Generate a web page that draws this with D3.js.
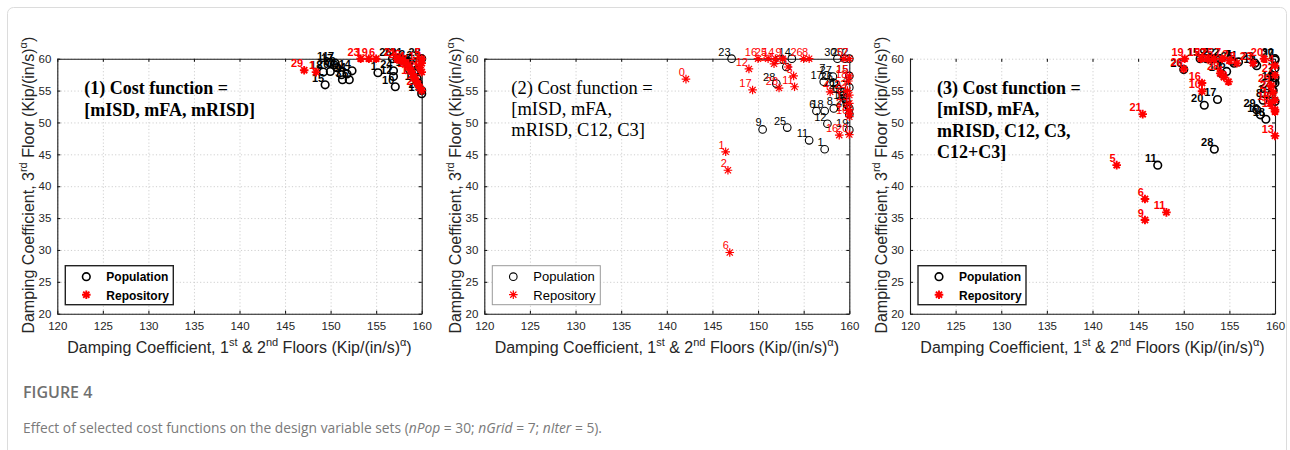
<!DOCTYPE html>
<html>
<head>
<meta charset="utf-8">
<script src="https://cdn.jsdelivr.net/npm/d3@7"></script>
<style>
  body { margin: 0; background: #fff; }
  text { font-family: Arial, "Liberation Sans", sans-serif; }
</style>
</head>
<body>
<div id="chart"></div>
<script>
// axis ticks
var xTicks = [120, 125, 130, 135, 140, 145, 150, 155, 160];
var yTicks = [20, 25, 30, 35, 40, 45, 50, 55, 60];

// population labels are the member index
var popLabels = ["1","2","3","4","5","6","7","8","9","10","11","12","13","14","15",
  "16","17","18","19","20","21","22","23","24","25","26","27","28","29","30"];

// (1) cost function = [mISD, mFA, mRISD]
var p1PopX = [155.2, 158.3, 151.3, 151.8, 152.05, 159.2, 150.5, 159.5, 151.2, 157.1, 149.9, 156.9, 159.6, 152.35, 149.4,
  158.6, 150.4, 149.2, 160, 149.97, 158.0, 157.3, 159.8, 156.9, 159.0, 156.8, 159.4, 160, 160, 150.7];
var p1PopY = [57.8, 59.6, 56.7, 57.6, 56.7, 57.7, 59.3, 56.9, 57.5, 55.6, 59.4, 57.2, 56.2, 58.1, 55.9,
  58.4, 59.0, 57.9, 54.5, 58.0, 59.9, 60.0, 59.5, 58.1, 59.0, 60.0, 58.2, 60.0, 55.0, 58.6];
var p1RepX = [147.1, 148.4, 153.3, 154.2, 155.0, 157.3, 157.8, 158.2, 158.5, 158.8, 159.0, 159.2, 159.4, 159.6, 159.8, 160, 160, 160, 159.8, 160];
var p1RepY = [58.2, 57.9, 60, 60, 60, 59.9, 59.7, 59.4, 58.8, 58.2, 57.6, 57.1, 56.5, 56.0, 55.4, 55.0, 59.3, 60, 58.6, 57.9];
var p1RepLab = ["29","1","23","19","6","21","25","14","27","13","3","16","9","2","20","8","17","5","7","28"];

// (2) cost function = [mISD, mFA, mRISD, C12, C3]
var p2PopX = [157.3, 160, 159.6, 160, 159.8, 156.4, 157.5, 158.3, 150.5, 159.3, 155.6, 157.6, 153.1, 153.7, 160,
  159.7, 157.2, 157.3, 160, 159.5, 158.7, 159.2, 147.1, 160, 153.2, 158.3, 158.2, 152.0, 160, 158.7];
var p2PopY = [45.8, 60, 53.6, 55.5, 52.7, 51.8, 57.4, 52.2, 48.9, 54.2, 47.2, 49.8, 58.7, 60, 57.3,
  53.2, 56.4, 51.8, 48.8, 60, 55.3, 54.8, 60, 52.2, 49.2, 56.2, 57.2, 56.1, 51.3, 60];
var p2RepX = [142.1, 149.0, 149.4, 146.45, 146.7, 146.9, 150.0, 151.1, 151.9, 152.7, 151.75, 153.3, 155.0, 155.6, 152.3, 154.0,
  153.9, 160, 157.9, 159.8, 158.9, 160, 160, 160, 160, 160, 160, 159.4, 160, 159.9];
var p2RepY = [56.8, 58.4, 55.1, 45.4, 42.5, 29.6, 60, 60, 60, 60, 59.2, 58.7, 60, 60, 55.4, 55.6,
  57.3, 57.3, 54.8, 55.0, 48.0, 48.1, 54.3, 53.0, 52.0, 51.4, 50.9, 60, 60, 56.5];
var p2RepLab = ["0","12","17","1","2","6","16","25","14","9","24","23","26","8","28","11",
  "3","15","4","22","16","20","21","19","27","13","10","5","7","18"];

// (3) cost function = [mISD, mFA, mRISD, C12, C3, C12+C3]
var p3PopX = [160, 154.0, 160, 159.8, 153.0, 154.7, 155.3, 158.7, 152.5, 158.4, 147.15, 158.0, 160, 154.2, 151.8,
  160, 153.7, 159.0, 159.6, 152.25, 156.0, 153.5, 157.8, 159.8, 155.5, 150.0, 160, 153.35, 158.0, 160];
var p3PopY = [57.0, 60, 58.5, 56.3, 60, 58.0, 59.6, 53.5, 60, 51.2, 43.3, 58.9, 53.3, 57.6, 60,
  56.2, 53.6, 50.5, 54.2, 52.7, 59.5, 60, 59.3, 55.0, 59.3, 58.3, 59.8, 45.8, 52.0, 60];
var p3RepX = [145.5, 142.65, 145.75, 145.75, 148.1, 152.0, 152.0, 160, 150.0, 150.1, 151.9, 152.6, 153.3, 154.2, 155.0,
  155.8, 154.0, 154.9, 154.4, 157.6, 158.8, 160, 159.6, 160, 160, 160, 159.5, 159.8, 160];
var p3RepY = [51.3, 43.3, 38.0, 34.7, 35.9, 56.2, 54.9, 47.9, 58.4, 60, 60, 60, 60, 60, 59.7,
  59.3, 57.7, 56.4, 57.1, 59.3, 60, 58.9, 55.8, 52.0, 53.5, 51.7, 53.0, 54.7, 57.4];
var p3RepLab = ["21","5","6","9","11","16","10","13","26","19","15","22","25","7","2",
  "8","28","3","4","23","20","14","29","12","17","1","18","24","27"];

var p1Title = ["(1) Cost function =", "[mISD, mFA, mRISD]"];
var p2Title = ["(2) Cost function =", "[mISD, mFA,", "mRISD, C12, C3]"];
var p3Title = ["(3) Cost function =", "[mISD, mFA,", "mRISD, C12, C3,", "C12+C3]"];
var legendNames = ["Population", "Repository"];

var svgWidth = 1290;
var svgHeight = 450;
var top0 = 58.7, bottom0 = 313.7;
var serif = "'Liberation Serif', 'Times New Roman', serif";
var capFont = "'Open Sans', 'Noto Sans', sans-serif";

var svg = d3.select("#chart")
  .append("svg")
  .attr("width", svgWidth)
  .attr("height", svgHeight);

// figure frame
svg.append("rect")
  .attr("x", 7.5).attr("y", 7.5)
  .attr("width", 1279).attr("height", 470)
  .attr("rx", 6)
  .attr("fill", "none")
  .attr("stroke", "#dcdcdc");

var panels = [
  {left: 57.3, right: 421.7, popX: p1PopX, popY: p1PopY, repX: p1RepX, repY: p1RepY, repLab: p1RepLab,
   title: p1Title, bold: true, topLine: true, lineH: 22, titleSize: 18},
  {left: 484.3, right: 849.3, popX: p2PopX, popY: p2PopY, repX: p2RepX, repY: p2RepY, repLab: p2RepLab,
   title: p2Title, bold: false, topLine: true, lineH: 21, titleSize: 18.5},
  {left: 910, right: 1275, popX: p3PopX, popY: p3PopY, repX: p3RepX, repY: p3RepY, repLab: p3RepLab,
   title: p3Title, bold: true, topLine: false, lineH: 21.6, titleSize: 18}
];

function asterisk(s) {
  var a = s * 0.72;
  return "M" + (-s) + ",0L" + s + ",0M0," + (-s) + "L0," + s +
    "M" + (-a) + "," + (-a) + "L" + a + "," + a + "M" + (-a) + "," + a + "L" + a + "," + (-a);
}

panels.forEach(function(p) {
  var width = p.right - p.left;
  var height = bottom0 - top0;
  var weight = p.bold ? "bold" : "normal";

  var x = d3.scaleLinear().domain([120, 160]).range([0, width]);
  var y = d3.scaleLinear().domain([20, 60]).range([height, 0]);

  var g = svg.append("g").attr("transform", `translate(${p.left}, ${top0})`);

  // dotted grid
  g.append("g")
    .attr("transform", `translate(0, ${height})`)
    .call(d3.axisBottom(x).tickValues(xTicks).tickSize(-height).tickFormat(""))
    .call(s => s.select(".domain").remove())
    .selectAll("line").attr("stroke", "#cfcfcf").attr("stroke-dasharray", "1.2,2.2");
  g.append("g")
    .call(d3.axisLeft(y).tickValues(yTicks).tickSize(-width).tickFormat(""))
    .call(s => s.select(".domain").remove())
    .selectAll("line").attr("stroke", "#cfcfcf").attr("stroke-dasharray", "1.2,2.2");

  // axes with inward ticks
  var bottomAxis = g.append("g")
    .attr("transform", `translate(0, ${height})`)
    .call(d3.axisBottom(x).tickValues(xTicks).tickSize(-3).tickSizeOuter(0).tickPadding(8));
  var leftAxis = g.append("g")
    .call(d3.axisLeft(y).tickValues(yTicks).tickSize(-3).tickSizeOuter(0).tickPadding(6));
  var topAxis = g.append("g")
    .call(d3.axisTop(x).tickValues(xTicks).tickSize(-3).tickSizeOuter(0).tickFormat(""));
  var rightAxis = g.append("g")
    .attr("transform", `translate(${width}, 0)`)
    .call(d3.axisRight(y).tickValues(yTicks).tickSize(-3).tickSizeOuter(0).tickFormat(""));
  if (!p.topLine) topAxis.select(".domain").remove();

  [bottomAxis, leftAxis, topAxis, rightAxis].forEach(function(a) {
    a.selectAll("path, line").attr("stroke", "#1a1a1a").attr("stroke-width", 1.1);
    a.selectAll("text").attr("font-size", "11.5px").attr("fill", "#262626")
      .style("font-family", "Arial, 'Liberation Sans', sans-serif");
  });

  var popData = p.popX.map((v, i) => ({x: v, y: p.popY[i], lab: popLabels[i]}));
  var repData = p.repX.map((v, i) => ({x: v, y: p.repY[i], lab: p.repLab[i]}));

  // population (open circles)
  g.selectAll(".pop")
    .data(popData)
    .enter()
    .append("circle")
    .attr("cx", d => x(d.x))
    .attr("cy", d => y(d.y))
    .attr("r", 3.8)
    .attr("fill", "none")
    .attr("stroke", "#000")
    .attr("stroke-width", p.bold ? 1.6 : 1.1);

  g.selectAll(".popLab")
    .data(popData)
    .enter()
    .append("text")
    .attr("x", d => x(d.x) - 1)
    .attr("y", d => y(d.y) - 3)
    .attr("text-anchor", "end")
    .attr("font-size", "11px")
    .attr("font-weight", weight)
    .attr("fill", "#000")
    .text(d => d.lab);

  // repository (red asterisks)
  g.selectAll(".rep")
    .data(repData)
    .enter()
    .append("path")
    .attr("transform", d => `translate(${x(d.x)}, ${y(d.y)})`)
    .attr("d", asterisk(4.3))
    .attr("fill", "none")
    .attr("stroke", "#ff0000")
    .attr("stroke-width", p.bold ? 1.9 : 1.2);

  g.selectAll(".repLab")
    .data(repData)
    .enter()
    .append("text")
    .attr("x", d => x(d.x) - 1)
    .attr("y", d => y(d.y) - 3)
    .attr("text-anchor", "end")
    .attr("font-size", "11px")
    .attr("font-weight", weight)
    .attr("fill", "#ff0000")
    .text(d => d.lab);

  // cost function annotation
  var t = g.append("text")
    .style("font-family", serif)
    .attr("font-size", p.titleSize + "px")
    .attr("font-weight", weight)
    .attr("fill", "#000");
  p.title.forEach(function(line, i) {
    t.append("tspan")
      .attr("x", 27)
      .attr("y", 35 + i * p.lineH)
      .text(line);
  });

  // legend
  var lg = g.append("g").attr("transform", `translate(8, ${height - 48})`);
  lg.append("rect")
    .attr("width", 108).attr("height", 39)
    .attr("fill", "#fff")
    .attr("stroke", p.bold ? "#222" : "#999")
    .attr("stroke-width", p.bold ? 1.4 : 1);
  lg.append("circle")
    .attr("cx", 21).attr("cy", 11).attr("r", 3.8)
    .attr("fill", "none").attr("stroke", "#000")
    .attr("stroke-width", p.bold ? 1.6 : 1.1);
  lg.append("path")
    .attr("transform", "translate(21, 29)")
    .attr("d", asterisk(4.3))
    .attr("fill", "none").attr("stroke", "#ff0000")
    .attr("stroke-width", p.bold ? 1.9 : 1.2);
  legendNames.forEach(function(name, i) {
    lg.append("text")
      .attr("x", 41)
      .attr("y", 15.5 + i * 18.5)
      .attr("font-size", p.bold ? "12px" : "13px")
      .attr("font-weight", weight)
      .attr("fill", "#000")
      .text(name);
  });

  // axis titles
  var xt = g.append("text")
    .attr("x", width / 2)
    .attr("y", height + 39.5)
    .attr("text-anchor", "middle")
    .attr("font-size", "16px")
    .attr("fill", "#262626");
  xt.append("tspan").text("Damping Coefficient, 1");
  xt.append("tspan").attr("font-size", "11px").attr("dy", -7).text("st");
  xt.append("tspan").attr("dy", 7).text(" & 2");
  xt.append("tspan").attr("font-size", "11px").attr("dy", -7).text("nd");
  xt.append("tspan").attr("dy", 7).text(" Floors (Kip/(in/s)");
  xt.append("tspan").attr("font-size", "11px").attr("dy", -7).text("α");
  xt.append("tspan").attr("dy", 7).text(")");

  var yt = g.append("text")
    .attr("transform", "rotate(-90)")
    .attr("x", -(height / 2) + 1)
    .attr("y", -23)
    .attr("text-anchor", "middle")
    .attr("font-size", "16px")
    .attr("fill", "#262626");
  yt.append("tspan").text("Damping Coefficient, 3");
  yt.append("tspan").attr("font-size", "11px").attr("dy", -7).text("rd");
  yt.append("tspan").attr("dy", 7).text(" Floor (Kip/(in/s)");
  yt.append("tspan").attr("font-size", "11px").attr("dy", -7).text("α");
  yt.append("tspan").attr("dy", 7).text(")");
});

// caption
svg.append("text")
  .attr("x", 23).attr("y", 398)
  .style("font-family", capFont)
  .attr("font-size", "16px")
  .attr("font-weight", 600)
  .attr("fill", "#707070")
  .text("FIGURE 4");

var cap = svg.append("text")
  .attr("x", 23).attr("y", 433)
  .style("font-family", capFont)
  .attr("font-size", "15px")
  .attr("fill", "#7a7a7a")
  .attr("textLength", 579)
  .attr("lengthAdjust", "spacingAndGlyphs");
cap.append("tspan").text("Effect of selected cost functions on the design variable sets (");
cap.append("tspan").attr("font-style", "italic").text("nPop");
cap.append("tspan").text(" = 30; ");
cap.append("tspan").attr("font-style", "italic").text("nGrid");
cap.append("tspan").text(" = 7; ");
cap.append("tspan").attr("font-style", "italic").text("nIter");
cap.append("tspan").text(" = 5).");
</script>
</body>
</html>
